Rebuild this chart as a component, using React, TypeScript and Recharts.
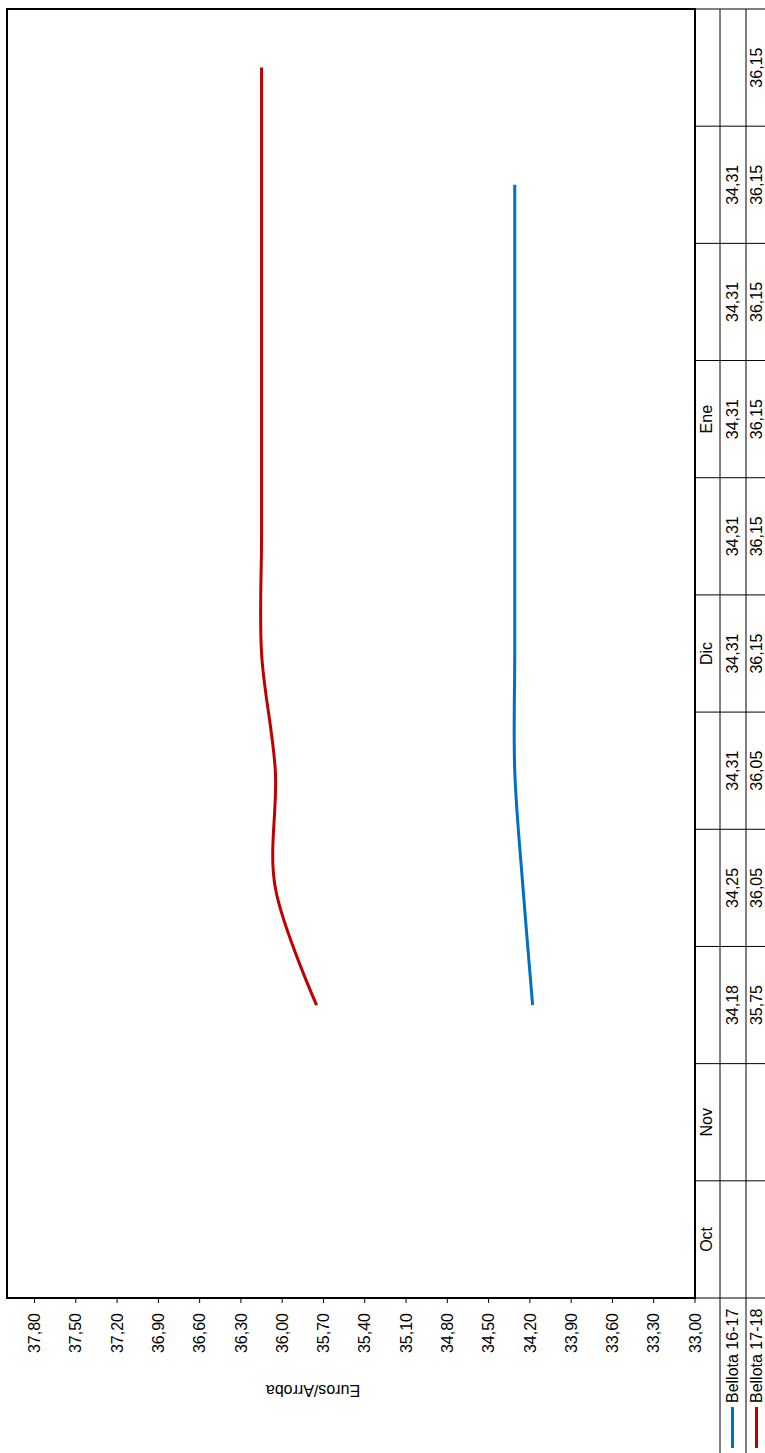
import { LineChart, Line, XAxis, YAxis } from "recharts";

// Chart is drawn landscape and turned a quarter turn to match the reference page
const CHART_W = 1453;
const CHART_H = 765;
const M_TOP = 7;
const M_RIGHT = 9;
const Y_AXIS_W = 155;
const X_AXIS_H = 70;

const months = ["Oct", "Nov", "", "", "", "Dic", "", "Ene", "", "", ""];
const bellota1617 = [null, null, 34.18, 34.25, 34.31, 34.31, 34.31, 34.31, 34.31, 34.31, null];
const bellota1718 = [null, null, 35.75, 36.05, 36.05, 36.15, 36.15, 36.15, 36.15, 36.15, 36.15];
const yTicks = [33.0, 33.3, 33.6, 33.9, 34.2, 34.5, 34.8, 35.1, 35.4, 35.7, 36.0, 36.3, 36.6, 36.9, 37.2, 37.5, 37.8];

const BLUE = "#0070C0";
const RED = "#C00000";
const FONT = "'Liberation Sans', Arial, sans-serif";
const FS = 16;

const PLOT_W = CHART_W - Y_AXIS_W - M_RIGHT;
const PLOT_H = CHART_H - X_AXIS_H - M_TOP;
const BAND = PLOT_W / months.length;

const data = months.map((m, i) => ({
  k: i,
  month: m,
  b1617: bellota1617[i],
  b1718: bellota1718[i],
}));

const fmt = (v: number | null) => (v == null ? "" : v.toFixed(2).replace(".", ","));

// Catmull-Rom style smoothing (like the spreadsheet "smoothed line")
const smoothCurve = (context: any) => {
  const k = 1 / 6;
  let x0 = NaN, x1 = NaN, x2 = NaN, y0 = NaN, y1 = NaN, y2 = NaN;
  let pt = 0;
  let line = NaN;
  const seg = (x: number, y: number) => {
    context.bezierCurveTo(
      x1 + k * (x2 - x0),
      y1 + k * (y2 - y0),
      x2 + k * (x1 - x),
      y2 + k * (y1 - y),
      x2,
      y2
    );
  };
  return {
    areaStart() { line = 0; },
    areaEnd() { line = NaN; },
    lineStart() {
      x0 = x1 = x2 = y0 = y1 = y2 = NaN;
      pt = 0;
    },
    lineEnd() {
      if (pt === 2) context.lineTo(x2, y2);
      else if (pt === 3) seg(x1, y1);
      if (line || (line !== 0 && pt === 1)) context.closePath();
      line = 1 - line;
    },
    point(xIn: number, yIn: number) {
      const x = +xIn;
      const y = +yIn;
      if (pt === 0) {
        pt = 1;
        if (line) context.lineTo(x, y);
        else context.moveTo(x, y);
      } else if (pt === 1) {
        pt = 2;
        x1 = x;
        y1 = y;
      } else {
        pt = 3;
        seg(x, y);
      }
      x0 = x1; x1 = x2; x2 = x;
      y0 = y1; y1 = y2; y2 = y;
    },
  };
};

const ROW1 = 25; // month row height
const ROW2 = 51; // bottom of first series row
const TXT1 = 11;
const TXT2 = 37.5;
const TXT3 = 61.5;

// data table under the plot, drawn as the x-axis ticks
const TableTick = (props: any) => {
  const { x, y, index } = props;
  const n = months.length;
  const band = (props.width || PLOT_W) / n;
  const left = x - band / 2;
  const right = x + band / 2;
  return (
    <g fontFamily={FONT} fontSize={FS} fill="#000">
      {index === 0 && (
        <rect
          x={left}
          y={y - PLOT_H}
          width={PLOT_W}
          height={PLOT_H}
          fill="none"
          stroke="#000"
          strokeWidth={2}
        />
      )}
      <line x1={left} y1={y} x2={left} y2={y + 75} stroke="#000" strokeWidth={1} />
      {index === n - 1 && (
        <line x1={right} y1={y} x2={right} y2={y + 75} stroke="#000" strokeWidth={1} />
      )}
      <text x={x} y={y + TXT1} textAnchor="middle" dominantBaseline="central" fill="#000">
        {months[index]}
      </text>
      <text x={x} y={y + TXT2} textAnchor="middle" dominantBaseline="central" fill="#000">
        {fmt(bellota1617[index])}
      </text>
      <text x={x} y={y + TXT3} textAnchor="middle" dominantBaseline="central" fill="#000">
        {fmt(bellota1718[index])}
      </text>
      {index === 0 && (
        <g>
          <line x1={0} y1={y + ROW1} x2={CHART_W - M_RIGHT} y2={y + ROW1} stroke="#000" strokeWidth={1} />
          <line x1={0} y1={y + ROW2} x2={CHART_W - M_RIGHT} y2={y + ROW2} stroke="#000" strokeWidth={1} />
          <line x1={5} y1={y + TXT2} x2={46} y2={y + TXT2} stroke={BLUE} strokeWidth={3} />
          <text x={50} y={y + TXT2} dominantBaseline="central" fill="#000">
            Bellota 16-17
          </text>
          <line x1={5} y1={y + TXT3} x2={46} y2={y + TXT3} stroke={RED} strokeWidth={3} />
          <text x={50} y={y + TXT3} dominantBaseline="central" fill="#000">
            Bellota 17-18
          </text>
        </g>
      )}
    </g>
  );
};

const AxisTitle = () => (
  <text
    x={63}
    y={313}
    transform="rotate(-90 63 313)"
    textAnchor="middle"
    dominantBaseline="central"
    fontFamily={FONT}
    fontSize={FS}
    fill="#000"
  >
    Euros/Arroba
  </text>
);

const App = () => {
  return (
    <div
      style={{
        position: "absolute",
        left: 0,
        top: 0,
        width: CHART_W,
        height: CHART_H,
        background: "#fff",
        transformOrigin: "0 0",
        transform: `translateY(${CHART_W}px) rotate(-90deg)`,
      }}
    >
      <LineChart
        width={CHART_W}
        height={CHART_H}
        data={data}
        margin={{ top: M_TOP, right: M_RIGHT, bottom: 0, left: 0 }}
        style={{ fontFamily: FONT }}
      >
        <XAxis
          dataKey="k"
          height={X_AXIS_H}
          interval={0}
          padding={{ left: BAND / 2, right: BAND / 2 }}
          tickSize={0}
          tickMargin={0}
          tickLine={false}
          axisLine={{ stroke: "#000", strokeWidth: 2 }}
          tick={<TableTick />}
        />
        <YAxis
          width={Y_AXIS_W}
          domain={[33, 38]}
          ticks={yTicks}
          tickSize={5}
          tickMargin={10}
          tickFormatter={(v: number) => fmt(v)}
          tick={{ fill: "#000", fontSize: FS, fontFamily: FONT }}
          tickLine={{ stroke: "#000" }}
          axisLine={{ stroke: "#000", strokeWidth: 2 }}
          label={{ content: <AxisTitle /> }}
        />
        <Line
          dataKey="b1617"
          type={smoothCurve as any}
          stroke={BLUE}
          strokeWidth={3}
          dot={false}
          activeDot={false}
          isAnimationActive={false}
        />
        <Line
          dataKey="b1718"
          type={smoothCurve as any}
          stroke={RED}
          strokeWidth={3}
          dot={false}
          activeDot={false}
          isAnimationActive={false}
        />
      </LineChart>
    </div>
  );
};

export default App;
